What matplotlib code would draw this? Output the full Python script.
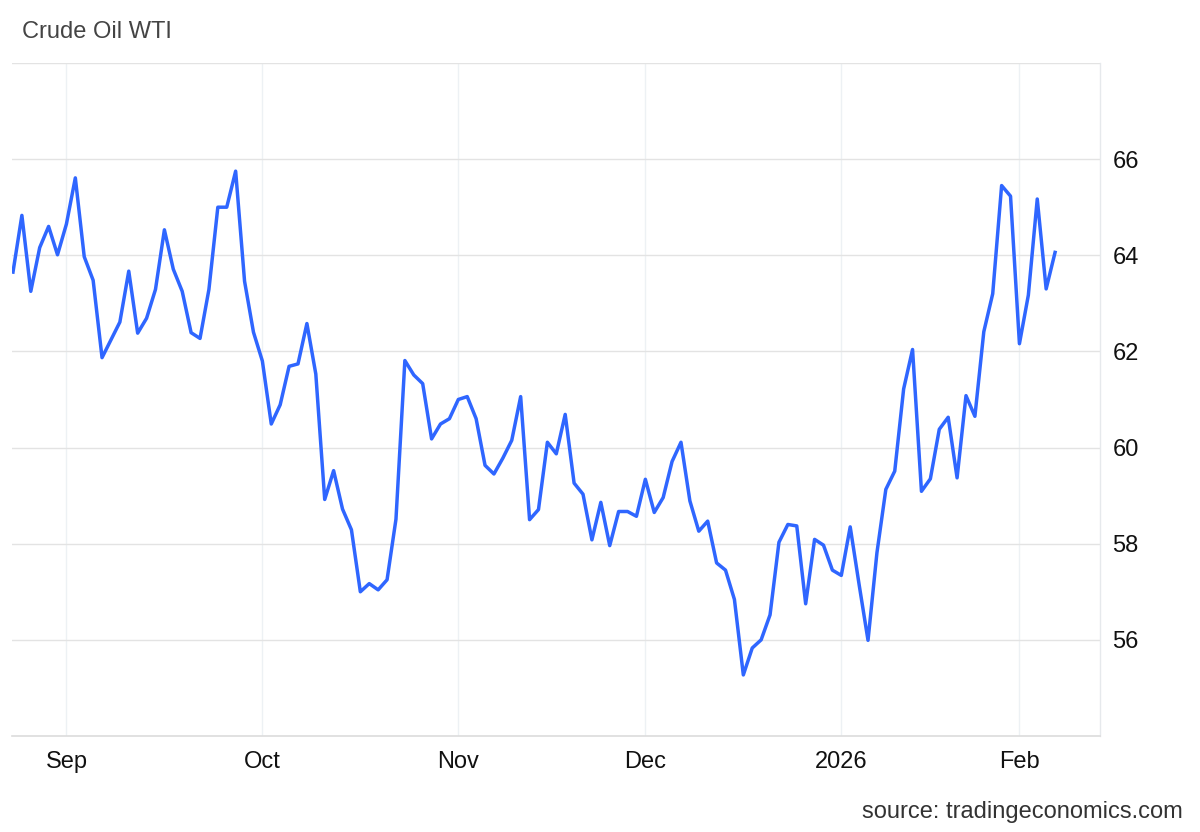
import numpy as np
import matplotlib
matplotlib.use("Agg")
import matplotlib.pyplot as plt

# daily closes, late Aug 2025 -> 6 Feb 2026
prices = [
    63.65, 64.83, 63.25, 64.16, 64.60, 64.01, 64.65, 65.61, 63.97, 63.48,
    61.87, 62.24, 62.61, 63.67, 62.38, 62.69, 63.29, 64.53, 63.71, 63.25,
    62.39, 62.27, 63.29, 65.00, 65.00, 65.75, 63.46, 62.40, 61.80, 60.49,
    60.89, 61.69, 61.74, 62.58, 61.53, 58.92, 59.52, 58.72, 58.29, 57.00,
    57.17, 57.04, 57.25, 58.51, 61.81, 61.51, 61.33, 60.18, 60.49, 60.60,
    61.00, 61.06, 60.60, 59.63, 59.45, 59.78, 60.15, 61.06, 58.50, 58.71,
    60.11, 59.87, 60.69, 59.26, 59.03, 58.08, 58.86, 57.96, 58.67, 58.67,
    58.57, 59.34, 58.65, 58.96, 59.71, 60.11, 58.89, 58.26, 58.47, 57.60,
    57.45, 56.84, 55.27, 55.83, 56.00, 56.52, 58.03, 58.40, 58.37, 56.75,
    58.09, 57.97, 57.45, 57.34, 58.35, 57.15, 55.99, 57.81, 59.13, 59.51,
    61.22, 62.04, 59.09, 59.35, 60.38, 60.63, 59.37, 61.08, 60.65, 62.41,
    63.20, 65.45, 65.23, 62.16, 63.17, 65.17, 63.30, 64.06,
]
month_labels = ["Sep", "Oct", "Nov", "Dec", "2026", "Feb"]
month_starts = [6, 28, 50, 71, 93, 113]   # index of first session in month
y_ticks = [56, 58, 60, 62, 64, 66]

plt.rcParams["font.family"] = ["Liberation Sans", "DejaVu Sans"]

fig = plt.figure(figsize=(12, 8.32), dpi=100)
ax = fig.add_axes([0.01, 0.1154, 0.9067, 0.8089])

x = np.arange(len(prices))
ax.plot(x, prices, color="#2f66ff", lw=2.5, solid_joinstyle="round", zorder=3)

ax.set_xlim(-0.11, 122.05)
ax.set_ylim(54, 68)

ax.set_xticks(month_starts)
ax.set_xticklabels(month_labels)
ax.set_yticks(y_ticks)
ax.yaxis.tick_right()
ax.tick_params(axis="both", length=0, labelsize=17, colors="#111111")
ax.tick_params(axis="x", pad=11)
ax.tick_params(axis="y", pad=9)

ax.grid(axis="y", color="#e3e3e3", lw=1)
ax.grid(axis="x", color="#edf1f4", lw=1)
ax.axhline(68, color="#e3e3e3", lw=1)

for side in ["left", "top"]:
    ax.spines[side].set_visible(False)
ax.spines["right"].set_color("#e6e9ec")
ax.spines["right"].set_linewidth(1)
ax.spines["bottom"].set_color("#dcdcdc")
ax.spines["bottom"].set_linewidth(1.2)

fig.text(0.0185, 0.9615, "Crude Oil WTI", fontsize=17, color="#444444",
         ha="left", va="center")
fig.text(0.986, 0.024, "source: tradingeconomics.com", fontsize=17,
         color="#333333", ha="right", va="center")

fig.savefig("out.png", dpi=100, facecolor="white")
